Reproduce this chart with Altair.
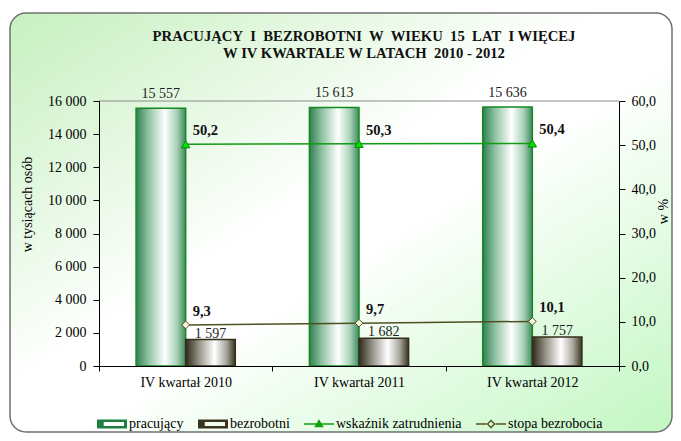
import altair as alt
import pandas as pd

# ---------------- data ----------------
categories = ["IV kwartał 2010", "IV kwartał 2011", "IV kwartał 2012"]
pracujacy = [15557, 15613, 15636]
bezrobotni = [1597, 1682, 1757]
wskaznik = [50.2, 50.3, 50.4]
stopa = [9.3, 9.7, 10.1]
bar_series = ["pracujący", "bezrobotni"]
line_series = ["wskaźnik zatrudnienia", "stopa bezrobocia"]
left_ticks = [0, 2000, 4000, 6000, 8000, 10000, 12000, 14000, 16000]
right_ticks = [0, 10, 20, 30, 40, 50, 60]
title_lines = [
    "PRACUJĄCY\u00a0 I\u00a0 BEZROBOTNI\u00a0 W\u00a0 WIEKU\u00a0 15\u00a0 LAT\u00a0 I WIĘCEJ",
    "W IV KWARTALE W LATACH\u00a0 2010 - 2012",
]

bars_df = pd.DataFrame({
    "kategoria": categories * 2,
    "seria": [bar_series[0]] * 3 + [bar_series[1]] * 3,
    "wartosc": pracujacy + bezrobotni,
})
lines_df = pd.DataFrame({
    "kategoria": categories * 2,
    "seria": [line_series[0]] * 3 + [line_series[1]] * 3,
    "procent": wskaznik + stopa,
})
legend_df = pd.DataFrame({"seria": bar_series + line_series})

# ---------------- style ----------------
FONT = "'Liberation Serif', 'Times New Roman', Times, serif"
W, H = 520, 265
GREEN_LINE = "#129c12"
OLIVE_LINE = "#4f4f22"

grad_green = alt.LinearGradient(
    gradient="linear", x1=0, x2=1, y1=0, y2=0,
    stops=[alt.GradientStop(color="#2f7f52", offset=0),
           alt.GradientStop(color="#8fc2a2", offset=0.25),
           alt.GradientStop(color="#ffffff", offset=0.58),
           alt.GradientStop(color="#a9d2b8", offset=0.82),
           alt.GradientStop(color="#3d8a5e", offset=1)])
grad_dark = alt.LinearGradient(
    gradient="linear", x1=0, x2=1, y1=0, y2=0,
    stops=[alt.GradientStop(color="#2e2a1a", offset=0),
           alt.GradientStop(color="#9a978c", offset=0.28),
           alt.GradientStop(color="#ffffff", offset=0.58),
           alt.GradientStop(color="#a8a69c", offset=0.82),
           alt.GradientStop(color="#3a3522", offset=1)])
grad_bg = alt.LinearGradient(
    gradient="linear", x1=0, x2=1, y1=0, y2=1,
    stops=[alt.GradientStop(color="#c6f0bf", offset=0),
           alt.GradientStop(color="#ffffff", offset=0.45),
           alt.GradientStop(color="#ffffff", offset=0.55),
           alt.GradientStop(color="#c2f7c2", offset=1)])

x_enc = alt.X(
    "kategoria:N", sort=categories,
    scale=alt.Scale(domain=categories, paddingInner=0, paddingOuter=0),
    axis=alt.Axis(title=None, labelAngle=0, tickBand="extent", tickSize=5,
                  labelPadding=4, labelFont=FONT, labelFontSize=14,
                  labelColor="#000", domainColor="#000", tickColor="#000", zindex=2),
)
xoff_enc = alt.XOffset("seria:N", scale=alt.Scale(domain=bar_series, paddingOuter=0.747, paddingInner=0))
yl_enc = alt.Y(
    "wartosc:Q", scale=alt.Scale(domain=[0, 16000], nice=False),
    axis=alt.Axis(orient="left", values=left_ticks, grid=False, zindex=2,
                  labelExpr="replace(format(datum.value, ','), ',', ' ')",
                  title="w tysiącach osób", titleX=-72, titleY=103, titleAngle=270,
                  titleAlign="center", titleBaseline="middle",
                  titleFont=FONT, titleFontSize=14, titleFontWeight="normal", titleColor="#000",
                  labelFont=FONT, labelFontSize=14, labelColor="#000", labelPadding=7,
                  tickSize=6, domainColor="#000", tickColor="#000"),
)
yr_enc = alt.Y(
    "procent:Q", scale=alt.Scale(domain=[0, 60], nice=False),
    axis=alt.Axis(orient="right", values=right_ticks, grid=False, zindex=2,
                  labelExpr="replace(format(datum.value, '.1f'), '.', ',')",
                  title="w %", titleX=44, titleY=110, titleAngle=270,
                  titleAlign="center", titleBaseline="middle",
                  titleFont=FONT, titleFontSize=14, titleFontWeight="normal", titleColor="#000",
                  labelFont=FONT, labelFontSize=14, labelColor="#000", labelPadding=6,
                  tickSize=6, domainColor="#000", tickColor="#000"),
)

# ---------------- background frame ----------------
frame = alt.Chart(alt.Data(values=[{"f": 1}])).mark_rect(
    fill=grad_bg, stroke="#707070", strokeWidth=1.5, cornerRadius=16
).encode(x=alt.value(-89), x2=alt.value(573), y=alt.value(-88), y2=alt.value(331))
top_border = alt.Chart(alt.Data(values=[{"f": 1}])).mark_rule(
    color="#8a8a8a", strokeWidth=1
).encode(x=alt.value(0), x2=alt.value(W), y=alt.value(0))

# ---------------- bars ----------------
base_bars = alt.Chart(bars_df)
bar_p = base_bars.transform_filter(alt.datum.seria == bar_series[0]).mark_bar(
    fill=grad_green, stroke="#138a1e", strokeWidth=1.5
).encode(x=x_enc, xOffset=xoff_enc, y=yl_enc)
bar_b = base_bars.transform_filter(alt.datum.seria == bar_series[1]).mark_bar(
    fill=grad_dark, stroke="#33301a", strokeWidth=1.5
).encode(x=x_enc, xOffset=xoff_enc, y=yl_enc)
lab_p = base_bars.transform_filter(alt.datum.seria == bar_series[0]).transform_calculate(
    txt="replace(format(datum.wartosc, ','), ',', ' ')"
).mark_text(font=FONT, fontSize=14, color="#222", dy=-10, baseline="alphabetic").encode(
    x=x_enc, xOffset=xoff_enc, y=yl_enc, text="txt:N")
lab_b = base_bars.transform_filter(alt.datum.seria == bar_series[1]).transform_calculate(
    txt="replace(format(datum.wartosc, ','), ',', ' ')"
).mark_text(font=FONT, fontSize=14, color="#222", dy=-2, baseline="alphabetic").encode(
    x=x_enc, xOffset=xoff_enc, y=yl_enc, text="txt:N")
left = alt.layer(bar_p, bar_b, lab_p, lab_b)

# ---------------- lines ----------------
base_lines = alt.Chart(lines_df)
w_f = base_lines.transform_filter(alt.datum.seria == line_series[0])
s_f = base_lines.transform_filter(alt.datum.seria == line_series[1])
line_w = w_f.mark_line(color=GREEN_LINE, strokeWidth=1.5).encode(x=x_enc, y=yr_enc)
pt_w = w_f.mark_point(shape="triangle-up", filled=True, fill="#00e600", stroke="#0a8a0a",
                      strokeWidth=1, size=70, opacity=1).encode(x=x_enc, y=yr_enc)
line_s = s_f.mark_line(color=OLIVE_LINE, strokeWidth=1.5).encode(x=x_enc, y=yr_enc)
pt_s = s_f.mark_point(shape="diamond", filled=True, fill="#f4f8d8", stroke=OLIVE_LINE,
                      strokeWidth=1, size=60, opacity=1).encode(x=x_enc, y=yr_enc)
txt_lines = base_lines.transform_calculate(
    txt="replace(format(datum.procent, '.1f'), '.', ',')"
).mark_text(font=FONT, fontSize=14.5, fontWeight="bold", color="#111", align="left",
            baseline="middle", dx=7, dy=-13).encode(x=x_enc, y=yr_enc, text="txt:N")
right = alt.layer(line_w, line_s, pt_w, pt_s, txt_lines)

# ---------------- legend ----------------
legend_order = bar_series + line_series
legend_colors = ["#1f7f3f", "#3a3520", "#10a010", "#55501e"]
legend_paths = [
    "M-1,-0.3H1V0.3H-1Z M-0.55,-0.13V0.13H0.8V-0.13Z",
    "M-1,-0.3H1V0.3H-1Z M-0.55,-0.13V0.13H0.8V-0.13Z",
    "M-1,-0.05H1V0.05H-1Z M0,-0.32L0.32,0.22H-0.32Z",
    "M-1,-0.045H-0.3V0.045H-1Z M0.3,-0.045H1V0.045H0.3Z M0,-0.3L0.3,0L0,0.3L-0.3,0Z M0,-0.17L-0.17,0L0,0.17L0.17,0Z",
]
leg_props = dict(title=None, orient="none", legendX=-2, legendY=308, direction="horizontal",
                 padding=0, labelFont=FONT, labelFontSize=14, labelColor="#000",
                 labelOffset=2, columnPadding=14, symbolSize=900, symbolStrokeWidth=0,
                 symbolOpacity=1, zindex=2)
legend_layer = alt.Chart(legend_df).transform_filter("false").mark_point(
    filled=True, opacity=1, size=900
).encode(
    color=alt.Color("seria:N", scale=alt.Scale(domain=legend_order, range=legend_colors),
                    legend=alt.Legend(**leg_props)),
    shape=alt.Shape("seria:N", scale=alt.Scale(domain=legend_order, range=legend_paths),
                    legend=alt.Legend(**leg_props)),
)

chart = alt.layer(frame, top_border, left, right, legend_layer).resolve_scale(
    y="independent"
).properties(
    width=W, height=H,
    autosize=alt.AutoSizeParams(type="none"),
    padding={"left": 91, "top": 93, "right": 54, "bottom": 67},
    background="white",
    title=alt.TitleParams(text=title_lines, font=FONT, fontSize=14.67, fontWeight="bold",
                          color="#111", anchor="middle", frame="group", offset=36, dx=5,
                          dy=84, lineHeight=17, zindex=2),
).configure_view(stroke=None)

chart.save("out.html", embed_options={"renderer": "svg", "actions": False})
